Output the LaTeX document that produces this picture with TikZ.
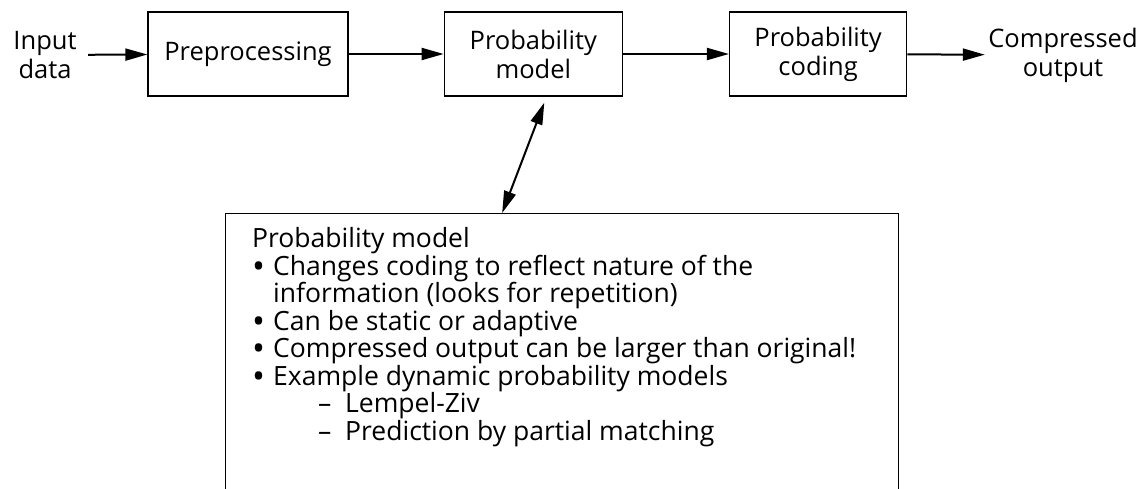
\documentclass[tikz,border=0pt]{standalone}
\usepackage{fontspec}
\setmainfont{Open Sans}
\usetikzlibrary{positioning,arrows.meta}

\newcommand{\itembul}{\makebox[21pt][l]{\raisebox{-3pt}{\scalebox{1.3}{\textbullet}}}}
\newcommand{\itemdash}{\hspace*{66pt}\makebox[27pt][l]{--}}

\begin{document}
\begin{tikzpicture}[x=1pt,y=-1pt,>={Triangle[length=22pt,width=12pt]},
  font=\fontsize{25.5}{29}\selectfont,
  block/.style={draw,line width=1.3pt,minimum height=84pt,align=center,inner sep=0pt},
  flow/.style={->,line width=2pt}]
  \clip (0,0) rectangle (1141,489);
  % top row
  \node[align=center] (in) at (45,55) {Input\\data};
  \node[block,minimum width=200pt] (pre) at (248,54) {Preprocessing};
  \node[block,minimum width=178pt,right=95pt of pre] (model) {Probability\\model};
  \node[block,minimum width=177pt,right=106pt of model] (coding) {Probability\\coding};
  \node[align=center] (out) at (1063,55) {Compressed\\output};
  \draw[flow,shorten <=8pt] (in) -- (pre);
  \draw[flow] (pre) -- (model);
  \draw[flow] (model) -- (coding);
  \draw[flow] (coding) -- (out);
  % notes on the model
  \node[draw,line width=1.3pt,anchor=north west,minimum width=673pt,
    minimum height=320pt,inner sep=0pt] (notes) at (225,213) {};
  \node[anchor=base west,align=left,inner sep=0pt,
    font=\fontsize{26.5}{27.5}\selectfont] (notetext) at (252,440) {%
    Probability model\\
    \itembul Changes coding to reflect nature of the\\
    \hspace*{21pt}information (looks for repetition)\\
    \itembul Can be static or adaptive\\
    \itembul Compressed output can be larger than original!\\
    \itembul Example dynamic probability models\\
    \itemdash Lempel-Ziv\\
    \itemdash Prediction by partial matching};
  \draw[<->,line width=2pt] ([xshift=11pt,yshift=-6pt]model.south) -- ([xshift=-60pt]notes.north);
\end{tikzpicture}
\end{document}
